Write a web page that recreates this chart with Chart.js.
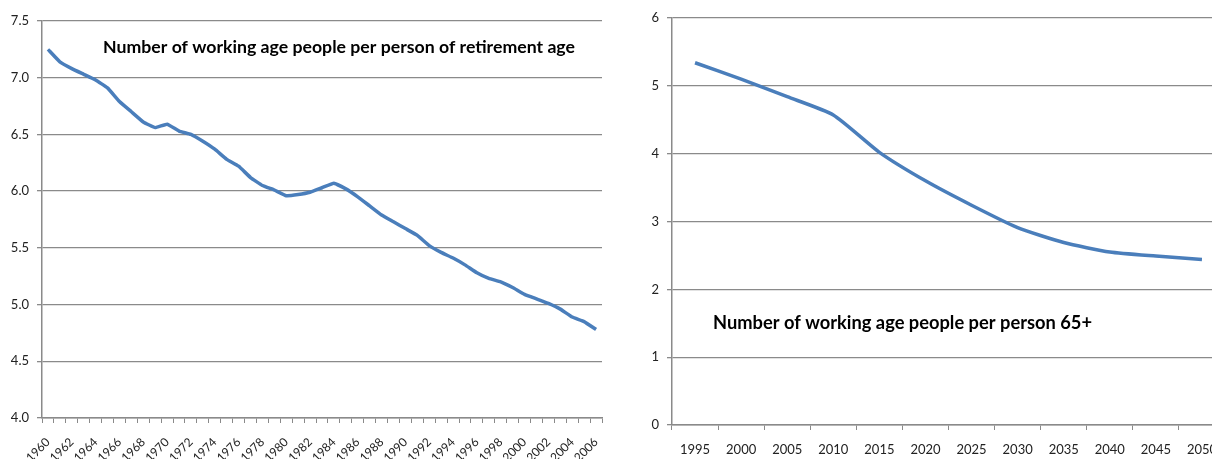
<!DOCTYPE html>
<html>
<head>
<meta charset="utf-8">
<script src="https://cdn.jsdelivr.net/npm/chart.js@4"></script>
<style>
  html, body { margin: 0; padding: 0; background: #fff; overflow: hidden; }
  body { width: 1212px; height: 459px; position: relative; }
  #left { position: absolute; left: 0; top: 0; width: 606px; height: 459px; }
  #right { position: absolute; left: 606px; top: 0; width: 619px; height: 459px; }
</style>
</head>
<body>
<div id="left"><canvas id="ratio-history"></canvas></div>
<div id="right"><canvas id="ratio-projection"></canvas></div>
<script>
// Historical ratio, 1960-2006
var historyYears = [];
for (var y = 1960; y <= 2006; y++) historyYears.push(String(y));
var historyValues = [
  7.25, 7.14, 7.08, 7.03, 6.98, 6.91, 6.79, 6.70, 6.61, 6.56,
  6.59, 6.53, 6.50, 6.44, 6.37, 6.28, 6.22, 6.12, 6.05, 6.01,
  5.96, 5.97, 5.99, 6.03, 6.07, 6.02, 5.95, 5.87, 5.79, 5.73,
  5.67, 5.61, 5.52, 5.46, 5.41, 5.35, 5.28, 5.23, 5.20, 5.15,
  5.09, 5.05, 5.01, 4.96, 4.89, 4.85, 4.78
];
var historyTicks = [4.0, 4.5, 5.0, 5.5, 6.0, 6.5, 7.0, 7.5];

// Projection, 1995-2050
var projectionYears = ['1995', '2000', '2005', '2010', '2015', '2020', '2025', '2030', '2035', '2040', '2045', '2050'];
var projectionValues = [5.34, 5.10, 4.84, 4.57, 4.02, 3.60, 3.24, 2.91, 2.69, 2.55, 2.49, 2.44];
var projectionTicks = [0, 1, 2, 3, 4, 5, 6];

var LINE = '#4a7ebb';
var GRID = '#8a8a8a';
var TEXT = '#222';
var FONT = 'Lato, "Open Sans", sans-serif';

// draws the in-plot caption
var captionPlugin = {
  id: 'caption',
  afterDraw: function (chart, args, opts) {
    var ctx = chart.ctx;
    ctx.save();
    ctx.font = 'bold ' + opts.size + 'px ' + FONT;
    ctx.fillStyle = '#000';
    ctx.textBaseline = 'middle';
    ctx.textAlign = 'left';
    ctx.fillText(opts.text, opts.x, opts.y);
    ctx.restore();
  }
};

function fixedTicks(values) {
  return function (scale) {
    scale.ticks = values.map(function (v) { return { value: v }; });
  };
}

function makeChart(canvasId, labels, values, cfg) {
  return new Chart(document.getElementById(canvasId), {
    type: 'line',
    data: {
      labels: labels,
      datasets: [{
        data: values,
        borderColor: LINE,
        borderWidth: 3.5,
        pointRadius: 0,
        tension: cfg.tension,
        fill: false
      }]
    },
    options: {
      responsive: true,
      maintainAspectRatio: false,
      animation: false,
      layout: { padding: { top: cfg.padTop, right: cfg.padRight, left: 0, bottom: 0 } },
      plugins: {
        legend: { display: false },
        tooltip: { enabled: false },
        caption: cfg.caption
      },
      scales: {
        x: {
          offset: true,
          grid: { drawOnChartArea: false, drawTicks: true, tickLength: 5, color: GRID, offset: true },
          border: { display: true, color: GRID, width: 1.5 },
          ticks: {
            autoSkip: false,
            maxRotation: cfg.rotation,
            minRotation: cfg.rotation,
            color: TEXT,
            font: { family: FONT, size: cfg.xFont },
            padding: cfg.xPad,
            callback: function (val, i) {
              return i % cfg.every === 0 ? this.getLabelForValue(val) : '';
            }
          },
          afterFit: function (s) {
            s.height = cfg.xHeight;
            s.paddingLeft = 0;
            s.paddingRight = 0;
          }
        },
        y: {
          min: cfg.yTicks[0],
          max: cfg.yTicks[cfg.yTicks.length - 1],
          afterBuildTicks: fixedTicks(cfg.yTicks),
          grid: { color: GRID, lineWidth: 1.3, tickLength: 5 },
          border: { display: true, color: GRID, width: 1.5 },
          ticks: {
            color: TEXT,
            font: { family: FONT, size: 13 },
            padding: 8,
            callback: function (v) { return cfg.decimals ? Number(v).toFixed(1) : String(v); }
          },
          afterFit: function (s) { s.width = cfg.yWidth; }
        }
      }
    },
    plugins: [captionPlugin]
  });
}

function render() {
  makeChart('ratio-history', historyYears, historyValues, {
    yTicks: historyTicks, decimals: true, every: 2, rotation: 45, xFont: 12, xPad: 12,
    xHeight: 41, yWidth: 42, padTop: 21, padRight: 4, tension: 0.1,
    caption: { text: 'Number of working age people per person of retirement age', x: 103, y: 47, size: 17.7 }
  });
  makeChart('ratio-projection', projectionYears, projectionValues, {
    yTicks: projectionTicks, decimals: false, every: 1, rotation: 0, xFont: 13, xPad: 12,
    xHeight: 34, yWidth: 66, padTop: 18, padRight: 0, tension: 0.2,
    caption: { text: 'Number of working age people per person 65+', x: 107, y: 323, size: 18.3 }
  });
}

if (document.readyState === 'loading') {
  document.addEventListener('DOMContentLoaded', render);
} else {
  render();
}
</script>
</body>
</html>
